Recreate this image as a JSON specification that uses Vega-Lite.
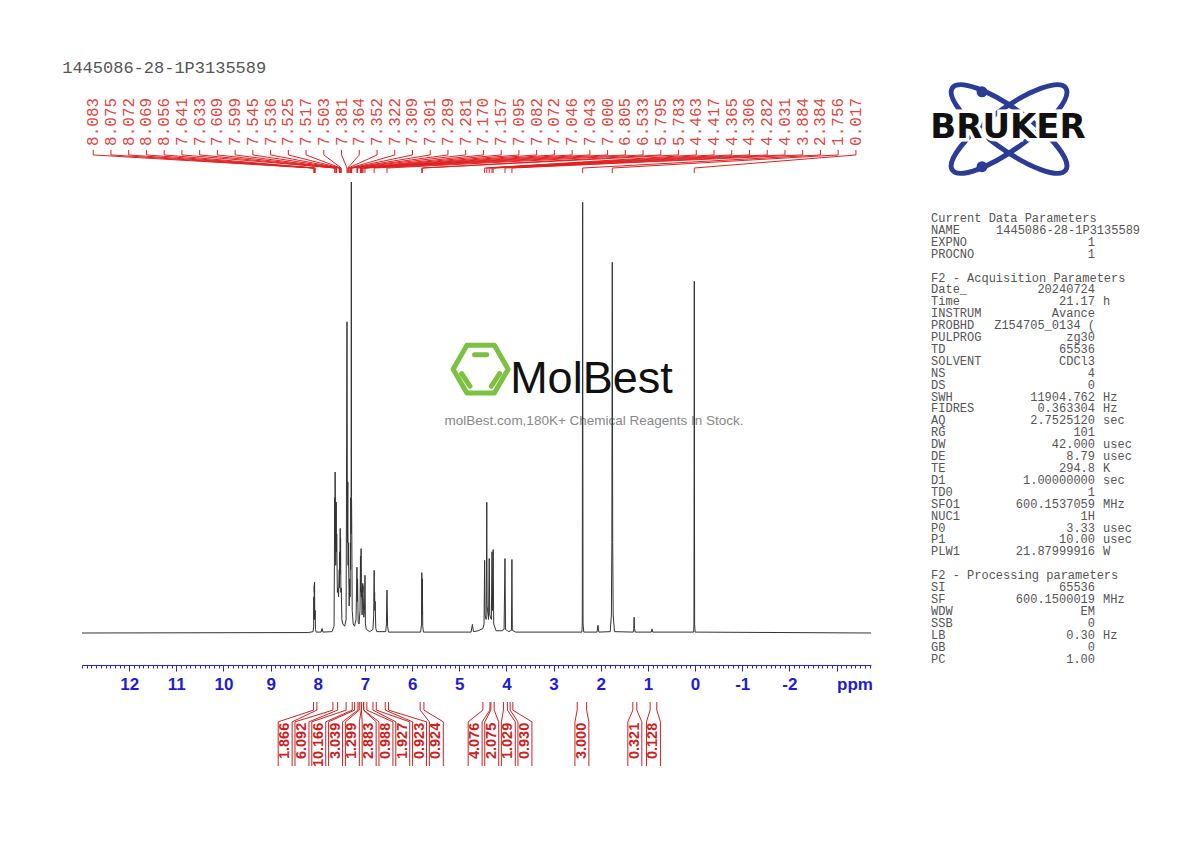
{
  "$schema": "https://vega.github.io/schema/vega-lite/v6.json",
  "width": 789,
  "height": 451,
  "autosize": {"type": "none"},
  "padding": {"left": 82, "top": 182, "right": 319, "bottom": 209},
  "background": "white",
  "config": {"view": {"stroke": null}, "font": "Liberation Sans"},
  "datasets": {
    "spec": [
      {"ppm": 13.0, "h": 0}, {"ppm": 8.2, "h": 0.1}, {"ppm": 8.1, "h": 0.3}, {"ppm": 8.088, "h": 1.5}, {"ppm": 8.083, "h": 8}, {"ppm": 8.079, "h": 3}, {"ppm": 8.075, "h": 10.5}, {"ppm": 8.0735, "h": 9}, {"ppm": 8.072, "h": 11}, {"ppm": 8.0705, "h": 9.5}, {"ppm": 8.069, "h": 11.3}, {"ppm": 8.064, "h": 3}, {"ppm": 8.056, "h": 5}, {"ppm": 8.05, "h": 0.8}, {"ppm": 8.035, "h": 0.2},
      {"ppm": 7.93, "h": 0.2}, {"ppm": 7.91, "h": 1}, {"ppm": 7.89, "h": 0.2}, {"ppm": 7.7, "h": 0.3}, {"ppm": 7.655, "h": 1.5}, {"ppm": 7.641, "h": 30}, {"ppm": 7.637, "h": 20}, {"ppm": 7.633, "h": 35.7}, {"ppm": 7.62, "h": 15}, {"ppm": 7.609, "h": 29}, {"ppm": 7.604, "h": 18}, {"ppm": 7.599, "h": 22}, {"ppm": 7.585, "h": 9}, {"ppm": 7.572, "h": 10}, {"ppm": 7.56, "h": 8},
      {"ppm": 7.545, "h": 14}, {"ppm": 7.54, "h": 10}, {"ppm": 7.536, "h": 18}, {"ppm": 7.53, "h": 13}, {"ppm": 7.525, "h": 23.2}, {"ppm": 7.521, "h": 15}, {"ppm": 7.517, "h": 21}, {"ppm": 7.51, "h": 9}, {"ppm": 7.503, "h": 10}, {"ppm": 7.49, "h": 3}, {"ppm": 7.47, "h": 2}, {"ppm": 7.43, "h": 1.5}, {"ppm": 7.4, "h": 3},
      {"ppm": 7.381, "h": 69}, {"ppm": 7.372, "h": 20}, {"ppm": 7.364, "h": 33.5}, {"ppm": 7.358, "h": 15}, {"ppm": 7.352, "h": 20}, {"ppm": 7.335, "h": 6}, {"ppm": 7.322, "h": 12}, {"ppm": 7.315, "h": 8}, {"ppm": 7.309, "h": 20}, {"ppm": 7.305, "h": 14}, {"ppm": 7.301, "h": 30}, {"ppm": 7.295, "h": 22}, {"ppm": 7.289, "h": 100}, {"ppm": 7.285, "h": 30}, {"ppm": 7.281, "h": 25}, {"ppm": 7.27, "h": 5}, {"ppm": 7.25, "h": 2}, {"ppm": 7.22, "h": 1.5}, {"ppm": 7.19, "h": 3},
      {"ppm": 7.17, "h": 14.6}, {"ppm": 7.163, "h": 7}, {"ppm": 7.157, "h": 12}, {"ppm": 7.145, "h": 2.5}, {"ppm": 7.125, "h": 2}, {"ppm": 7.105, "h": 5}, {"ppm": 7.095, "h": 17}, {"ppm": 7.088, "h": 9}, {"ppm": 7.082, "h": 18.7}, {"ppm": 7.077, "h": 8}, {"ppm": 7.072, "h": 10}, {"ppm": 7.06, "h": 4}, {"ppm": 7.046, "h": 11}, {"ppm": 7.0445, "h": 9}, {"ppm": 7.043, "h": 10.5}, {"ppm": 7.025, "h": 3.5}, {"ppm": 7.01, "h": 5}, {"ppm": 7.0, "h": 12.8}, {"ppm": 6.99, "h": 2}, {"ppm": 6.97, "h": 0.8}, {"ppm": 6.9, "h": 0.3},
      {"ppm": 6.83, "h": 0.8}, {"ppm": 6.815, "h": 4}, {"ppm": 6.805, "h": 13.9}, {"ppm": 6.8, "h": 7}, {"ppm": 6.795, "h": 9}, {"ppm": 6.79, "h": 5}, {"ppm": 6.785, "h": 7}, {"ppm": 6.77, "h": 1}, {"ppm": 6.75, "h": 0.3},
      {"ppm": 6.56, "h": 0.3}, {"ppm": 6.545, "h": 2}, {"ppm": 6.538, "h": 7}, {"ppm": 6.533, "h": 9.5}, {"ppm": 6.528, "h": 6}, {"ppm": 6.52, "h": 1.5}, {"ppm": 6.5, "h": 0.2},
      {"ppm": 5.82, "h": 0.2}, {"ppm": 5.8, "h": 2}, {"ppm": 5.795, "h": 13.4}, {"ppm": 5.789, "h": 4}, {"ppm": 5.783, "h": 12}, {"ppm": 5.775, "h": 1.5}, {"ppm": 5.76, "h": 0.2},
      {"ppm": 4.75, "h": 0.2}, {"ppm": 4.722, "h": 1.9}, {"ppm": 4.7, "h": 0.3}, {"ppm": 4.6, "h": 0.5}, {"ppm": 4.5, "h": 1}, {"ppm": 4.475, "h": 2}, {"ppm": 4.463, "h": 16.1}, {"ppm": 4.455, "h": 4}, {"ppm": 4.43, "h": 3}, {"ppm": 4.417, "h": 29}, {"ppm": 4.41, "h": 6}, {"ppm": 4.38, "h": 3}, {"ppm": 4.365, "h": 16.5}, {"ppm": 4.355, "h": 4}, {"ppm": 4.32, "h": 3}, {"ppm": 4.306, "h": 18}, {"ppm": 4.295, "h": 5}, {"ppm": 4.282, "h": 18.5}, {"ppm": 4.27, "h": 2}, {"ppm": 4.22, "h": 0.5}, {"ppm": 4.1, "h": 0.5}, {"ppm": 4.05, "h": 0.8}, {"ppm": 4.031, "h": 16.5}, {"ppm": 4.02, "h": 0.8}, {"ppm": 3.95, "h": 0.3}, {"ppm": 3.894, "h": 0.6}, {"ppm": 3.884, "h": 16.3}, {"ppm": 3.875, "h": 0.6}, {"ppm": 3.8, "h": 0.2},
      {"ppm": 2.4, "h": 0.2}, {"ppm": 2.392, "h": 2}, {"ppm": 2.384, "h": 95.5}, {"ppm": 2.376, "h": 2}, {"ppm": 2.36, "h": 0.2}, {"ppm": 2.08, "h": 0.2}, {"ppm": 2.06, "h": 1.7}, {"ppm": 2.04, "h": 0.2},
      {"ppm": 1.8, "h": 0.3}, {"ppm": 1.775, "h": 4}, {"ppm": 1.765, "h": 20}, {"ppm": 1.756, "h": 82.2}, {"ppm": 1.747, "h": 20}, {"ppm": 1.737, "h": 4}, {"ppm": 1.71, "h": 0.3},
      {"ppm": 1.31, "h": 0.2}, {"ppm": 1.3, "h": 1}, {"ppm": 1.293, "h": 3.5}, {"ppm": 1.285, "h": 1}, {"ppm": 1.27, "h": 0.2}, {"ppm": 0.93, "h": 0.2}, {"ppm": 0.912, "h": 0.9}, {"ppm": 0.9, "h": 0.2},
      {"ppm": 0.03, "h": 0.2}, {"ppm": 0.024, "h": 2}, {"ppm": 0.017, "h": 78}, {"ppm": 0.01, "h": 2}, {"ppm": 0.0, "h": 0.2}, {"ppm": -3.73, "h": 0}
    ],
    "peaks": [
      {"ppm": 8.083}, {"ppm": 8.075}, {"ppm": 8.072}, {"ppm": 8.069}, {"ppm": 8.056}, {"ppm": 7.641}, {"ppm": 7.633}, {"ppm": 7.609}, {"ppm": 7.599}, {"ppm": 7.545}, {"ppm": 7.536}, {"ppm": 7.525}, {"ppm": 7.517}, {"ppm": 7.503}, {"ppm": 7.381}, {"ppm": 7.364}, {"ppm": 7.352}, {"ppm": 7.322}, {"ppm": 7.309}, {"ppm": 7.301}, {"ppm": 7.289}, {"ppm": 7.281},
      {"ppm": 7.170}, {"ppm": 7.157}, {"ppm": 7.095}, {"ppm": 7.082}, {"ppm": 7.072}, {"ppm": 7.046}, {"ppm": 7.043}, {"ppm": 7.000}, {"ppm": 6.805}, {"ppm": 6.533}, {"ppm": 5.795}, {"ppm": 5.783}, {"ppm": 4.463}, {"ppm": 4.417}, {"ppm": 4.365}, {"ppm": 4.306}, {"ppm": 4.282}, {"ppm": 4.031}, {"ppm": 3.884}, {"ppm": 2.384}, {"ppm": 1.756}, {"ppm": 0.017}
    ],
    "integ": [
      {"from": 8.09, "to": 8.02, "v": 1.866},
      {"from": 7.68, "to": 7.58, "v": 6.092},
      {"from": 7.40, "to": 7.27, "v": 10.166},
      {"from": 7.22, "to": 7.15, "v": 3.039},
      {"from": 7.12, "to": 7.08, "v": 1.299},
      {"from": 7.075, "to": 7.03, "v": 2.883},
      {"from": 7.025, "to": 6.96, "v": 0.988},
      {"from": 6.83, "to": 6.76, "v": 1.927},
      {"from": 6.57, "to": 6.50, "v": 0.923},
      {"from": 5.83, "to": 5.75, "v": 0.924},
      {"from": 4.50, "to": 4.35, "v": 4.076},
      {"from": 4.33, "to": 4.26, "v": 2.075},
      {"from": 4.064, "to": 3.98, "v": 1.029},
      {"from": 3.922, "to": 3.865, "v": 0.930},
      {"from": 2.50, "to": 2.30, "v": 3.000},
      {"from": 1.32, "to": 1.236, "v": 0.321},
      {"from": 0.954, "to": 0.812, "v": 0.128}
    ],
    "params": [
      {"r": 0, "n": "Current Data Parameters"},
      {"r": 1, "n": "NAME", "v": "1445086-28-1P3135589"},
      {"r": 2, "n": "EXPNO", "v": "1"},
      {"r": 3, "n": "PROCNO", "v": "1"},
      {"r": 5, "n": "F2 - Acquisition Parameters"},
      {"r": 6, "n": "Date_", "v": "20240724"},
      {"r": 7, "n": "Time", "v": "21.17", "u": "h"},
      {"r": 8, "n": "INSTRUM", "v": "Avance"},
      {"r": 9, "n": "PROBHD", "v": "Z154705_0134 ("},
      {"r": 10, "n": "PULPROG", "v": "zg30"},
      {"r": 11, "n": "TD", "v": "65536"},
      {"r": 12, "n": "SOLVENT", "v": "CDCl3"},
      {"r": 13, "n": "NS", "v": "4"},
      {"r": 14, "n": "DS", "v": "0"},
      {"r": 15, "n": "SWH", "v": "11904.762", "u": "Hz"},
      {"r": 16, "n": "FIDRES", "v": "0.363304", "u": "Hz"},
      {"r": 17, "n": "AQ", "v": "2.7525120", "u": "sec"},
      {"r": 18, "n": "RG", "v": "101"},
      {"r": 19, "n": "DW", "v": "42.000", "u": "usec"},
      {"r": 20, "n": "DE", "v": "8.79", "u": "usec"},
      {"r": 21, "n": "TE", "v": "294.8", "u": "K"},
      {"r": 22, "n": "D1", "v": "1.00000000", "u": "sec"},
      {"r": 23, "n": "TD0", "v": "1"},
      {"r": 24, "n": "SFO1", "v": "600.1537059", "u": "MHz"},
      {"r": 25, "n": "NUC1", "v": "1H"},
      {"r": 26, "n": "P0", "v": "3.33", "u": "usec"},
      {"r": 27, "n": "P1", "v": "10.00", "u": "usec"},
      {"r": 28, "n": "PLW1", "v": "21.87999916", "u": "W"},
      {"r": 30, "n": "F2 - Processing parameters"},
      {"r": 31, "n": "SI", "v": "65536"},
      {"r": 32, "n": "SF", "v": "600.1500019", "u": "MHz"},
      {"r": 33, "n": "WDW", "v": "EM"},
      {"r": 34, "n": "SSB", "v": "0"},
      {"r": 35, "n": "LB", "v": "0.30", "u": "Hz"},
      {"r": 36, "n": "GB", "v": "0"},
      {"r": 37, "n": "PC", "v": "1.00"}
    ]
  },
  "layer": [
    {
      "resolve": {"axis": {"x": "independent"}},
      "layer": [
        {
          "data": {"values": [{"brand": "MolBest"}]},
          "mark": {"type": "point", "shape": "M -1 0 L -0.5 -0.866 L 0.5 -0.866 L 1 0 L 0.5 0.866 L -0.5 0.866 Z M -0.22 -0.52 L 0.22 -0.52 M -0.69 0.16 L -0.39 0.62 M 0.69 0.16 L 0.39 0.62", "filled": false, "stroke": "#7dc142", "strokeWidth": 5, "size": 3025, "opacity": 1, "strokeCap": "round", "strokeJoin": "round"},
          "encoding": {"x": {"datum": 4.547, "axis": null}, "y": {"datum": 58.5, "axis": null}}
        },
        {
          "data": {"values": [{"t": "MolBest"}]},
          "mark": {"type": "text", "align": "left", "baseline": "alphabetic", "font": "Liberation Sans", "fontSize": 45, "fill": "#111111"},
          "encoding": {"x": {"datum": 3.922, "axis": null}, "y": {"datum": 53.2, "axis": null}, "text": {"field": "t"}}
        },
        {
          "data": {"values": [{"t": "molBest.com,180K+ Chemical Reagents In Stock."}]},
          "mark": {"type": "text", "align": "center", "baseline": "middle", "font": "Liberation Sans", "fontSize": 13.5, "fill": "#888888"},
          "encoding": {"x": {"datum": 2.141, "axis": null}, "y": {"datum": 47.0, "axis": null}, "text": {"field": "t"}}
        },
        {
          "data": {"name": "spec"},
          "mark": {"type": "line", "stroke": "#333333", "strokeWidth": 1, "clip": false},
          "encoding": {
            "x": {
              "field": "ppm", "type": "quantitative",
              "scale": {"domain": [-3.73, 13.0], "reverse": true, "nice": false, "zero": false},
              "axis": {
                "orient": "bottom", "offset": 32, "values": [12, 11, 10, 9, 8, 7, 6, 5, 4, 3, 2, 1, 0, -1, -2, -3],
                "grid": false, "title": null,
                "labelExpr": "datum.value == -3 ? 'ppm' : '' + datum.value",
                "labelOverlap": false, "labelFlush": false, "labelBound": false,
                "labelAlign": {"condition": {"test": "datum.value == -3", "value": "left"}, "value": "center"},
                "tickSize": 6, "tickWidth": 1,
                "domainColor": "#2424d0", "tickColor": "#2424d0", "labelColor": "#1c1cd6",
                "labelFont": "Liberation Sans", "labelFontWeight": "bold", "labelFontSize": 17, "labelPadding": 5
              }
            },
            "y": {"field": "h", "type": "quantitative", "scale": {"domain": [0, 100], "nice": false, "zero": false}, "axis": null}
          }
        },
        {
          "data": {"name": "spec"},
          "mark": {"type": "rule", "opacity": 0},
          "encoding": {
            "x": {
              "field": "ppm", "type": "quantitative",
              "axis": {"orient": "bottom", "offset": 32, "tickCount": 170, "labels": false, "domain": false, "grid": false, "title": null, "tickSize": 3, "tickWidth": 1, "tickColor": "#2424d0"}
            }
          }
        },
        {
          "data": {"name": "peaks"},
          "transform": [
            {"window": [{"op": "row_number", "as": "k"}], "sort": [{"field": "ppm", "order": "descending"}]},
            {"calculate": "13.138 - 0.37609 * datum.k", "as": "lx"}
          ],
          "layer": [
            {
              "mark": {"type": "text", "angle": 270, "align": "left", "baseline": "middle", "font": "Liberation Mono", "fontSize": 16, "fill": "#e2463f"},
              "encoding": {"x": {"field": "lx", "type": "quantitative", "axis": null}, "y": {"datum": 108.0, "axis": null}, "text": {"field": "ppm", "type": "quantitative", "format": ".3f"}}
            },
            {
              "mark": {"type": "rule", "stroke": "#e02020", "strokeWidth": 1},
              "encoding": {"x": {"field": "lx", "type": "quantitative", "axis": null}, "y": {"datum": 107.1, "axis": null}, "y2": {"datum": 106.0}}
            },
            {
              "mark": {"type": "rule", "stroke": "#e02020", "strokeWidth": 1},
              "encoding": {"x": {"field": "lx", "type": "quantitative", "axis": null}, "x2": {"field": "ppm"}, "y": {"datum": 106.0, "axis": null}, "y2": {"datum": 103.1}}
            },
            {
              "mark": {"type": "rule", "stroke": "#e02020", "strokeWidth": 1},
              "encoding": {"x": {"field": "ppm", "type": "quantitative", "axis": null}, "y": {"datum": 103.1, "axis": null}, "y2": {"datum": 102.0}}
            }
          ]
        },
        {
          "data": {"name": "integ"},
          "transform": [
            {"window": [{"op": "row_number", "as": "k"}], "sort": [{"field": "from", "order": "descending"}]},
            {"calculate": "datum.k <= 10 ? 9.048 - 0.35616 * datum.k : (datum.k <= 14 ? 8.535 - 0.35192 * datum.k : (datum.from + datum.to) / 2)", "as": "lx"}
          ],
          "layer": [
            {
              "mark": {"type": "text", "angle": 270, "align": "right", "baseline": "middle", "font": "Liberation Sans", "fontWeight": "bold", "fontSize": 14.5, "fill": "#cc1f1f"},
              "encoding": {"x": {"field": "lx", "type": "quantitative", "axis": null}, "y": {"datum": -19.9, "axis": null}, "text": {"field": "v", "type": "quantitative", "format": ".3f"}}
            },
            {
              "transform": [
                {"fold": ["from", "to"], "as": ["side", "end"]},
                {"calculate": "datum.side == 'from' ? datum.lx + 0.148 : datum.lx - 0.148", "as": "sx"}
              ],
              "layer": [
                {
                  "mark": {"type": "rule", "stroke": "#cc2222", "strokeWidth": 1},
                  "encoding": {"x": {"field": "end", "type": "quantitative", "axis": null}, "y": {"datum": -15.3, "axis": null}, "y2": {"datum": -17.1}}
                },
                {
                  "mark": {"type": "rule", "stroke": "#cc2222", "strokeWidth": 1},
                  "encoding": {"x": {"field": "end", "type": "quantitative", "axis": null}, "x2": {"field": "sx"}, "y": {"datum": -17.1, "axis": null}, "y2": {"datum": -19.7}}
                },
                {
                  "mark": {"type": "rule", "stroke": "#cc2222", "strokeWidth": 1},
                  "encoding": {"x": {"field": "sx", "type": "quantitative", "axis": null}, "y": {"datum": -19.7, "axis": null}, "y2": {"datum": -29.5}}
                }
              ]
            }
          ]
        },
        {
          "data": {"values": [{"t": "1445086-28-1P3135589"}]},
          "mark": {"type": "text", "align": "left", "baseline": "middle", "font": "Liberation Mono", "fontSize": 17, "fill": "#555555"},
          "encoding": {"x": {"datum": 13.42, "axis": null}, "y": {"datum": 125.3, "axis": null}, "text": {"field": "t"}}
        },
        {
          "data": {"values": [{"t": "BRUKER"}]},
          "layer": [
            {
              "mark": {"type": "point", "shape": "M 1 0 C 1 0.1578 0.5523 0.2857 0 0.2857 C -0.5523 0.2857 -1 0.1578 -1 0 C -1 -0.1578 -0.5523 -0.2857 0 -0.2857 C 0.5523 -0.2857 1 -0.1578 1 0 Z", "filled": false, "stroke": "#2b3c96", "strokeWidth": 5, "size": 19600, "angle": 36, "opacity": 1},
              "encoding": {"x": {"datum": -6.657, "axis": null}, "y": {"datum": 111.75, "axis": null}}
            },
            {
              "mark": {"type": "point", "shape": "M 1 0 C 1 0.1578 0.5523 0.2857 0 0.2857 C -0.5523 0.2857 -1 0.1578 -1 0 C -1 -0.1578 -0.5523 -0.2857 0 -0.2857 C 0.5523 -0.2857 1 -0.1578 1 0 Z", "filled": false, "stroke": "#2b3c96", "strokeWidth": 5, "size": 19600, "angle": -36, "opacity": 1},
              "encoding": {"x": {"datum": -6.657, "axis": null}, "y": {"datum": 111.75, "axis": null}}
            },
            {
              "mark": {"type": "point", "shape": "circle", "filled": true, "fill": "#2b3c96", "size": 120, "opacity": 1},
              "encoding": {"x": {"datum": -6.084, "axis": null}, "y": {"datum": 120.0, "axis": null}}
            },
            {
              "mark": {"type": "point", "shape": "circle", "filled": true, "fill": "#2b3c96", "size": 120, "opacity": 1},
              "encoding": {"x": {"datum": -6.084, "axis": null}, "y": {"datum": 103.4, "axis": null}}
            },
            {
              "mark": {"type": "text", "align": "center", "baseline": "middle", "font": "DejaVu Sans", "fontWeight": "bold", "fontSize": 34, "fill": "white", "stroke": "white", "strokeWidth": 7},
              "encoding": {"x": {"datum": -6.636, "axis": null}, "y": {"datum": 112.0, "axis": null}, "text": {"field": "t"}}
            },
            {
              "mark": {"type": "text", "align": "center", "baseline": "middle", "font": "DejaVu Sans", "fontWeight": "bold", "fontSize": 34, "fill": "#111111"},
              "encoding": {"x": {"datum": -6.636, "axis": null}, "y": {"datum": 112.0, "axis": null}, "text": {"field": "t"}}
            }
          ]
        }
      ]
    },
    {
      "data": {"name": "params"},
      "layer": [
        {
          "mark": {"type": "text", "align": "left", "baseline": "middle", "font": "Liberation Mono", "fontSize": 12, "fill": "#555555"},
          "encoding": {
            "x": {"datum": -5.003, "axis": null},
            "y": {"field": "r", "type": "quantitative", "scale": {"domain": [0, 37], "range": [36, 476.5], "nice": false, "zero": false}, "axis": null},
            "text": {"field": "n"}
          }
        },
        {
          "transform": [{"filter": "datum.v && datum.r != 1"}],
          "mark": {"type": "text", "align": "right", "baseline": "middle", "font": "Liberation Mono", "fontSize": 12, "fill": "#555555"},
          "encoding": {
            "x": {"datum": -8.48, "axis": null},
            "y": {"field": "r", "type": "quantitative", "scale": {"domain": [0, 37], "range": [36, 476.5], "nice": false, "zero": false}, "axis": null},
            "text": {"field": "v"}
          }
        },
        {
          "transform": [{"filter": "datum.r == 1"}],
          "mark": {"type": "text", "align": "left", "baseline": "middle", "font": "Liberation Mono", "fontSize": 12, "fill": "#555555"},
          "encoding": {
            "x": {"datum": -6.381, "axis": null},
            "y": {"field": "r", "type": "quantitative", "scale": {"domain": [0, 37], "range": [36, 476.5], "nice": false, "zero": false}, "axis": null},
            "text": {"field": "v"}
          }
        },
        {
          "transform": [{"filter": "datum.u"}],
          "mark": {"type": "text", "align": "left", "baseline": "middle", "font": "Liberation Mono", "fontSize": 12, "fill": "#555555"},
          "encoding": {
            "x": {"datum": -8.65, "axis": null},
            "y": {"field": "r", "type": "quantitative", "scale": {"domain": [0, 37], "range": [36, 476.5], "nice": false, "zero": false}, "axis": null},
            "text": {"field": "u"}
          }
        }
      ]
    }
  ],
  "resolve": {"scale": {"y": "independent"}}
}
